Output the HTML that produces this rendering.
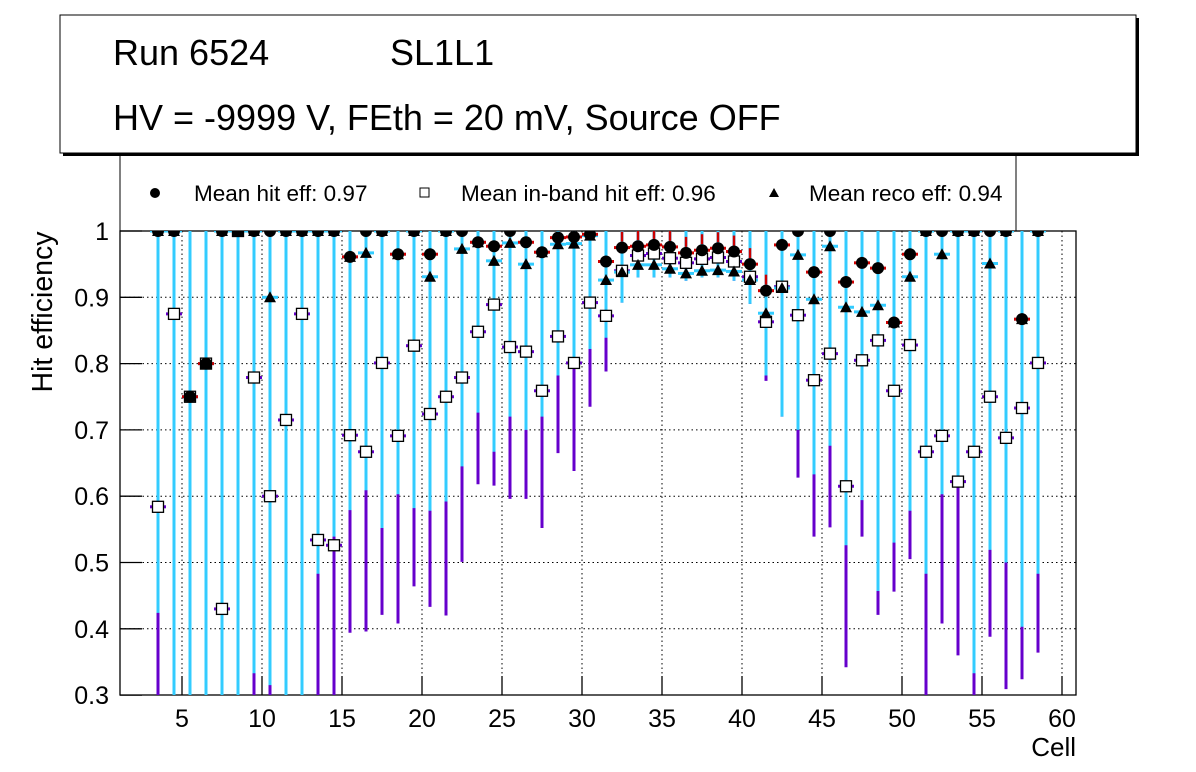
<!DOCTYPE html>
<html><head><meta charset="utf-8"><style>
body{margin:0;background:#fff;}
svg{display:block;font-family:"Liberation Sans",sans-serif;}
</style></head><body>
<svg id="c" width="1196" height="772"></svg>
<script>
const cells=[3,4,5,6,7,8,9,10,11,12,13,14,15,16,17,18,19,20,21,22,23,24,25,26,27,28,29,30,31,32,33,34,35,36,37,38,39,40,41,42,43,44,45,46,47,48,49,50,51,52,53,54,55,56,57,58];
const hitEff=[1,1,0.75,0.80,1,1,1,1,1,1,1,1,0.961,1,1,0.965,1,0.965,1,1,0.983,0.977,1,0.983,0.968,0.99,0.991,0.995,0.954,0.975,0.977,0.979,0.976,0.967,0.971,0.974,0.969,0.95,0.91,0.979,1,0.938,1,0.923,0.952,0.944,0.862,0.965,1,1,1,1,1,1,0.867,1];
const inbandEff=[0.584,0.875,0.75,0.80,0.43,1,0.779,0.60,0.715,0.875,0.534,0.526,0.692,0.667,0.801,0.691,0.827,0.724,0.75,0.779,0.848,0.889,0.825,0.818,0.759,0.841,0.801,0.892,0.872,0.94,0.963,0.966,0.959,0.952,0.958,0.96,0.954,0.931,0.863,0.916,0.873,0.775,0.815,0.615,0.805,0.835,0.759,0.828,0.667,0.691,0.622,0.667,0.75,0.688,0.733,0.801];
const recoEff=[1,1,0.75,0.80,1,1,1,0.90,1,1,1,1,0.961,0.967,1,0.965,1,0.931,1,0.973,0.983,0.955,0.982,0.95,0.968,0.98,0.981,0.993,0.926,0.938,0.949,0.949,0.943,0.936,0.94,0.941,0.939,0.926,0.876,0.914,0.964,0.897,0.977,0.885,0.878,0.888,0.862,0.931,1,0.965,1,1,0.951,1,0.867,1];
const recoLow=[0.424,0,0,0,0,0,0.333,0.315,0,0,0.483,0.539,0.579,0.609,0.552,0.603,0.582,0.578,0.592,0.645,0.726,0.667,0.72,0.70,0.72,0.782,0.792,0.822,0.839,0.892,0.93,0.93,0.93,0.925,0.93,0.93,0.925,0.89,0.782,0.72,0.70,0.633,0.676,0.526,0.594,0.457,0.53,0.578,0.483,0.603,0.614,0.333,0.519,0.50,0.403,0.483];
const inbandLow=[0,0,0,0,0,0,0,0,0,0,0,0,0.394,0.396,0.421,0.408,0.464,0.433,0.42,0.501,0.618,0.616,0.596,0.596,0.552,0.665,0.638,0.735,0.788,0.892,0.93,0.93,0.93,0.925,0.93,0.93,0.925,0.89,0.774,0.72,0.628,0.539,0.553,0.342,0.539,0.421,0.456,0.505,0,0.408,0.36,0,0.388,0.309,0.324,0.364];
const yTicks=[0.3,0.4,0.5,0.6,0.7,0.8,0.9,1];
const yTickLabels=["0.3","0.4","0.5","0.6","0.7","0.8","0.9","1"];
const xTicks=[5,10,15,20,25,30,35,40,45,50,55,60];

const NS="http://www.w3.org/2000/svg";
const svg=document.getElementById('c');
const L=120,R=1076,T=231,B=695;
const X=v=>102+16*v;
const Y=v=>231+(1-v)*663;
const cy=v=>Math.min(B,Math.max(T,Y(v)));
function el(tag,attrs,parent){const e=document.createElementNS(NS,tag);for(const k in attrs)e.setAttribute(k,attrs[k]);(parent||svg).appendChild(e);return e;}

const defs=el('defs',{});
const cp=el('clipPath',{id:'plotclip'},defs);
el('rect',{x:L,y:T,width:R-L,height:B-T},cp);

// title box
el('rect',{x:63,y:18,width:1076,height:138,fill:'#000'});
let tb=el('rect',{x:60,y:15,width:1076,height:138,fill:'#fff',stroke:'#000','stroke-width':1});


let t1=el('text',{x:113,y:65,'font-size':36});t1.textContent='Run 6524';

let t2=el('text',{x:390,y:65,'font-size':36});t2.textContent='SL1L1';

let t3=el('text',{x:113,y:130,'font-size':36});t3.textContent='HV = -9999 V, FEth = 20 mV, Source OFF';


// legend
let lg=el('path',{d:'M120,156 V231 M1016,156 V231',stroke:'#000',fill:'none'});

el('circle',{cx:155,cy:193,r:5,fill:'#000'});
let l1=el('text',{x:194,y:201,'font-size':22.5});l1.textContent='Mean hit  eff: 0.97';

el('rect',{x:420,y:188,width:9,height:9,fill:'#fff',stroke:'#000'});
let l2=el('text',{x:461,y:201,'font-size':22.5});l2.textContent='Mean in-band hit eff: 0.96';

el('polygon',{points:'774,188 779,197 769,197',fill:'#000'});
let l3=el('text',{x:809,y:201,'font-size':22.5});l3.textContent='Mean reco eff: 0.94';


// frame + grid
const grid=el('g',{stroke:'#000','stroke-width':1,'stroke-dasharray':'1.5,3'});

yTicks.forEach(v=>{if(v>0.3&&v<1)el('line',{x1:L,x2:R,y1:Y(v),y2:Y(v)},grid);});
xTicks.forEach(v=>{el('line',{x1:X(v),x2:X(v),y1:T,y2:B},grid);});
const ax=el('g',{stroke:'#000','stroke-width':1.3});

el('rect',{x:L,y:T,width:R-L,height:B-T,fill:'none'},ax);
yTicks.forEach(v=>el('line',{x1:L,x2:L+22,y1:Y(v),y2:Y(v)},ax));
xTicks.forEach(v=>el('line',{x1:X(v),x2:X(v),y1:B,y2:B-19},ax));
yTicks.forEach((v,i)=>{const t=el('text',{x:109,y:Y(v)+9,'font-size':25,'text-anchor':'end'});t.textContent=yTickLabels[i];
});
xTicks.forEach(v=>{const t=el('text',{x:X(v),y:727,'font-size':25,'text-anchor':'middle'});t.textContent=String(v);
});
let yt=el('text',{x:0,y:0,'font-size':28.5,'text-anchor':'middle',transform:'translate(52,312) rotate(-90)'});yt.textContent='Hit efficiency';

let xt=el('text',{x:1076,y:756,'font-size':26,'text-anchor':'end'});xt.textContent='Cell';


// series
const g=el('g',{'clip-path':'url(#plotclip)'});

cells.forEach((c,i)=>{
  const x=X(c+0.5);
  el('line',{x1:x,x2:x,y1:cy(1),y2:cy(inbandLow[i]),stroke:'#6600cc','stroke-width':3},g);
  el('line',{x1:x-8,x2:x+8,y1:Y(inbandEff[i]),y2:Y(inbandEff[i]),stroke:'#6600cc','stroke-width':3},g);
  el('line',{x1:x,x2:x,y1:cy(1),y2:cy(recoLow[i]),stroke:'#33ccff','stroke-width':3},g);
  el('line',{x1:x-8,x2:x+8,y1:Y(recoEff[i]),y2:Y(recoEff[i]),stroke:'#33ccff','stroke-width':3},g);
  if(hitEff[i]<1){
    el('line',{x1:x-8,x2:x+8,y1:Y(hitEff[i]),y2:Y(hitEff[i]),stroke:'#cc0000','stroke-width':3},g);
    if(c>=32&&c<=41)el('line',{x1:x,x2:x,y1:Math.max(T,Y(hitEff[i])-16),y2:Y(hitEff[i])-6,stroke:'#cc0000','stroke-width':2.5},g);
  }
});
cells.forEach((c,i)=>{
  const x=X(c+0.5);
  const s=el('rect',{x:x-5.5,y:Y(inbandEff[i])-5.5,width:11,height:11,fill:'#fff',stroke:'#000','stroke-width':1.3},g);
  
  const ty=Y(recoEff[i]);
  const tr=el('polygon',{points:`${x},${ty-6} ${x+6},${ty+5} ${x-6},${ty+5}`,fill:'#000'},g);
  
  const ci=el('circle',{cx:x,cy:Y(hitEff[i]),r:6,fill:'#000'},g);
  
});
</script>
</body></html>
